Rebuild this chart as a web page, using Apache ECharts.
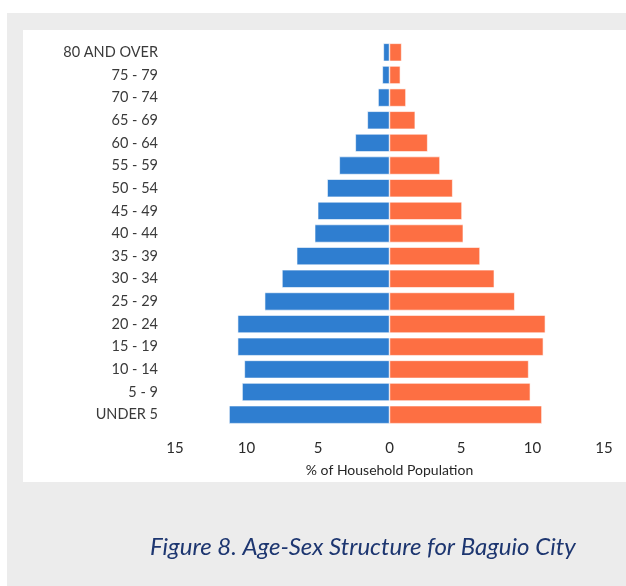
<!DOCTYPE html>
<html>
<head>
<meta charset="utf-8">
<script src="https://cdn.jsdelivr.net/npm/echarts@6/dist/echarts.min.js"></script>
<style>
  html, body { margin: 0; padding: 0; background: #ffffff; }
  #chart { width: 626px; height: 586px; }
</style>
</head>
<body>
<div id="chart"></div>
<script>
// Age groups, listed from the oldest (top) to the youngest (bottom)
const ageGroups = [
  '80 AND OVER', '75 - 79', '70 - 74', '65 - 69', '60 - 64', '55 - 59',
  '50 - 54', '45 - 49', '40 - 44', '35 - 39', '30 - 34', '25 - 29',
  '20 - 24', '15 - 19', '10 - 14', '5 - 9', 'UNDER 5'
];

// Share of household population (%) by sex
const malePct = [
  0.43, 0.50, 0.80, 1.55, 2.39, 3.51,
  4.36, 5.02, 5.23, 6.49, 7.52, 8.73,
  10.62, 10.62, 10.15, 10.31, 11.22
];
const femalePct = [
  0.85, 0.76, 1.15, 1.80, 2.67, 3.53,
  4.42, 5.07, 5.16, 6.33, 7.33, 8.76,
  10.90, 10.76, 9.73, 9.85, 10.66
];

// Horizontal axis ticks (absolute values shown on both sides)
const axisMin = -15;
const axisMax = 15;
const axisStep = 5;

const captionText = 'Figure 8. Age-Sex Structure for Baguio City';
const axisTitle = '% of Household Population';

const chart = echarts.init(document.getElementById('chart'), null, { renderer: 'canvas' });

chart.setOption({
  backgroundColor: '#ececec',
  animation: false,
  graphic: [
    { type: 'rect', z: -10, silent: true, shape: { x: 0, y: 0, width: 626, height: 13 }, style: { fill: '#ffffff' } },
    { type: 'rect', z: -10, silent: true, shape: { x: 0, y: 0, width: 7, height: 586 }, style: { fill: '#ffffff' } },
    { type: 'rect', z: -10, silent: true, shape: { x: 23, y: 30, width: 610, height: 452 }, style: { fill: '#ffffff' } },
    {
      type: 'text', left: 150, top: 535, silent: true,
      style: {
        text: captionText,
        fill: '#1d3670',
        font: 'italic 24px Lato, "Open Sans", sans-serif'
      }
    }
  ],
  grid: { left: 175, right: 22, top: 41, bottom: 160, containLabel: false },
  xAxis: {
    type: 'value',
    min: axisMin,
    max: axisMax,
    interval: axisStep,
    name: axisTitle,
    nameLocation: 'middle',
    nameGap: 37,
    nameTextStyle: { fontFamily: 'Lato, "Open Sans", sans-serif', fontSize: 14, color: '#262626' },
    axisLine: { show: false },
    axisTick: { show: false },
    splitLine: { show: false },
    axisLabel: {
      margin: 15,
      fontFamily: 'Lato, "Open Sans", sans-serif',
      fontSize: 15,
      color: '#2b2b2b'
      , formatter: function (v) { return String(Math.abs(v)); }
    }
  },
  yAxis: {
    type: 'category',
    data: ageGroups,
    inverse: true,
    axisLine: { show: false },
    axisTick: { show: false },
    splitLine: { show: false },
    axisLabel: {
      margin: 17,
      fontFamily: 'Lato, "Open Sans", sans-serif',
      fontSize: 14.5,
      color: '#3a3a3a'
    }
  },
  series: [
    {
      name: 'Male',
      type: 'bar',
      barWidth: 18,
      barGap: '-100%',
      data: malePct.map(function (v) { return -v; }),
      itemStyle: { color: '#2f7ed0', borderColor: '#ffffff', borderWidth: 0.6 }
    },
    {
      name: 'Female',
      type: 'bar',
      barWidth: 18,
      barGap: '-100%',
      data: femalePct,
      itemStyle: { color: '#fd6f43', borderColor: '#ffffff', borderWidth: 0.6 }
    }
  ]
});
</script>
</body>
</html>
